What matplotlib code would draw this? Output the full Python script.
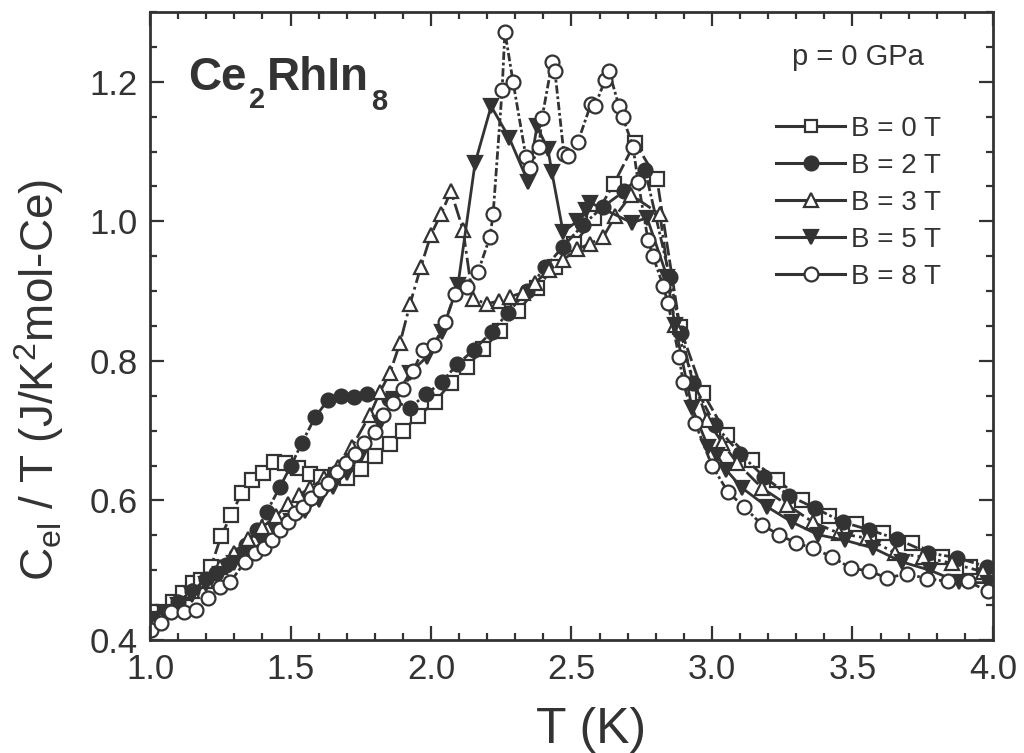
import matplotlib
matplotlib.use('Agg')
import matplotlib.pyplot as plt
from matplotlib.ticker import MultipleLocator, FormatStrFormatter

plt.rcParams['font.family'] = ['Liberation Sans', 'DejaVu Sans']
plt.rcParams['mathtext.fontset'] = 'custom'
plt.rcParams['mathtext.rm'] = 'Liberation Sans'
plt.rcParams['mathtext.it'] = 'Liberation Sans:italic'
plt.rcParams['mathtext.bf'] = 'Liberation Sans:bold'

col = '#333333'

# B = 0 T
T0 = [1.004, 1.082, 1.117, 1.153, 1.181, 1.217, 1.253, 1.288, 1.327, 1.363, 1.402, 1.441,
      1.480, 1.527, 1.569, 1.609, 1.662, 1.701, 1.751, 1.801, 1.854, 1.900, 1.954, 2.014,
      2.071, 2.128, 2.185, 2.246, 2.310, 2.377, 2.440, 2.509, 2.580, 2.651, 2.726, 2.804,
      2.886, 2.968, 3.053, 3.142, 3.231, 3.320, 3.416, 3.512, 3.609, 3.712, 3.819, 3.918, 4.0]
C0 = [0.440, 0.455, 0.467, 0.482, 0.486, 0.505, 0.549, 0.579, 0.611, 0.630, 0.640, 0.655,
      0.654, 0.647, 0.638, 0.634, 0.637, 0.632, 0.645, 0.664, 0.681, 0.700, 0.721, 0.741,
      0.769, 0.792, 0.817, 0.843, 0.871, 0.905, 0.935, 0.967, 1.005, 1.054, 1.113, 1.061,
      0.848, 0.754, 0.694, 0.658, 0.630, 0.601, 0.578, 0.566, 0.553, 0.539, 0.519, 0.505, 0.498]

# B = 2 T
T2 = [1.0, 1.05, 1.10, 1.15, 1.20, 1.235, 1.270, 1.306, 1.342, 1.381, 1.416, 1.463, 1.502,
      1.541, 1.587, 1.633, 1.680, 1.726, 1.772, 1.85, 1.925, 1.982, 2.039, 2.093, 2.153,
      2.217, 2.274, 2.340, 2.406, 2.470, 2.541, 2.612, 2.687, 2.762, 2.85, 2.89, 2.932,
      3.011, 3.100, 3.185, 3.274, 3.367, 3.466, 3.559, 3.658, 3.769, 3.872, 3.979]
C2 = [0.430, 0.440, 0.455, 0.470, 0.488, 0.496, 0.508, 0.522, 0.536, 0.558, 0.584, 0.620, 0.650,
      0.683, 0.719, 0.744, 0.750, 0.749, 0.753, 0.745, 0.733, 0.752, 0.770, 0.795, 0.816,
      0.842, 0.869, 0.900, 0.934, 0.964, 0.995, 1.021, 1.043, 1.073, 0.920, 0.840, 0.769,
      0.708, 0.667, 0.634, 0.607, 0.589, 0.569, 0.558, 0.545, 0.525, 0.518, 0.505]

# B = 3 T
T3 = [1.0, 1.05, 1.10, 1.15, 1.20, 1.25, 1.30, 1.35, 1.40, 1.45, 1.49, 1.53, 1.57, 1.62,
      1.67, 1.719, 1.783, 1.819, 1.854, 1.890, 1.925, 1.964, 2.000, 2.036, 2.071, 2.114,
      2.149, 2.199, 2.242, 2.281, 2.327, 2.370, 2.420, 2.470, 2.520, 2.565, 2.612, 2.655,
      2.712, 2.815, 2.868, 2.982, 3.036, 3.089, 3.178, 3.267, 3.359, 3.452, 3.552, 3.651,
      3.751, 3.854, 3.964]
C3 = [0.430, 0.440, 0.455, 0.470, 0.485, 0.505, 0.525, 0.545, 0.562, 0.578, 0.595, 0.608,
      0.618, 0.632, 0.648, 0.677, 0.723, 0.756, 0.783, 0.826, 0.881, 0.935, 0.981, 1.011,
      1.043, 0.988, 0.889, 0.882, 0.886, 0.892, 0.898, 0.912, 0.930, 0.945, 0.960, 0.968,
      0.977, 1.007, 1.038, 1.010, 0.852, 0.716, 0.683, 0.654, 0.618, 0.594, 0.569, 0.553,
      0.546, 0.525, 0.519, 0.510, 0.498]

# B = 5 T
T5 = [1.0, 1.05, 1.10, 1.15, 1.20, 1.25, 1.30, 1.35, 1.40, 1.45, 1.50, 1.55, 1.60, 1.65,
      1.70, 1.75, 1.819, 1.870, 1.925, 1.986, 2.039, 2.096, 2.157, 2.214, 2.278, 2.345,
      2.377, 2.416, 2.430, 2.470, 2.520, 2.552, 2.566, 2.715, 2.769, 2.840, 2.868, 2.929,
      2.986, 3.018, 3.050, 3.107, 3.196, 3.285, 3.377, 3.473, 3.573, 3.676, 3.776, 3.879, 3.982]
C5 = [0.430, 0.440, 0.450, 0.465, 0.480, 0.495, 0.510, 0.525, 0.540, 0.555, 0.570, 0.585,
      0.600, 0.620, 0.640, 0.665, 0.711, 0.745, 0.783, 0.806, 0.842, 0.909, 1.084, 1.165,
      1.120, 1.057, 1.136, 1.104, 1.071, 0.985, 1.000, 1.017, 1.027, 0.998, 1.005, 0.921,
      0.852, 0.733, 0.677, 0.665, 0.644, 0.618, 0.591, 0.569, 0.551, 0.543, 0.532, 0.512,
      0.500, 0.483, 0.482]

# B = 8 T
T8 = [1.004, 1.040, 1.075, 1.120, 1.164, 1.206, 1.249, 1.285, 1.338, 1.374, 1.406, 1.434,
      1.463, 1.491, 1.516, 1.544, 1.573, 1.605, 1.633, 1.665, 1.698, 1.730, 1.762, 1.801,
      1.829, 1.865, 1.900, 1.936, 1.972, 2.011, 2.050, 2.085, 2.128, 2.167, 2.210, 2.221,
      2.253, 2.263, 2.292, 2.338, 2.352, 2.384, 2.395, 2.431, 2.441, 2.473, 2.488, 2.523,
      2.569, 2.584, 2.619, 2.633, 2.669, 2.683, 2.719, 2.737, 2.772, 2.790, 2.826, 2.843,
      2.883, 2.897, 2.940, 3.000, 3.057, 3.114, 3.178, 3.238, 3.299, 3.359, 3.427, 3.495,
      3.559, 3.623, 3.694, 3.765, 3.840, 3.911, 3.982]
C8 = [0.414, 0.425, 0.440, 0.440, 0.443, 0.460, 0.476, 0.483, 0.512, 0.525, 0.532, 0.543,
      0.558, 0.569, 0.582, 0.591, 0.604, 0.615, 0.625, 0.641, 0.654, 0.667, 0.683, 0.698,
      0.723, 0.740, 0.760, 0.786, 0.816, 0.823, 0.856, 0.896, 0.906, 0.927, 0.978, 1.010,
      1.188, 1.272, 1.200, 1.092, 1.076, 1.107, 1.148, 1.228, 1.215, 1.097, 1.094, 1.114,
      1.168, 1.166, 1.202, 1.216, 1.165, 1.149, 1.107, 1.057, 0.974, 0.950, 0.908, 0.883,
      0.806, 0.770, 0.711, 0.650, 0.612, 0.591, 0.565, 0.551, 0.539, 0.532, 0.519, 0.503,
      0.499, 0.489, 0.495, 0.488, 0.484, 0.484, 0.470]

series = [
    (T0, C0, 's', 'white', (0, (5, 1.5)), 'B = 0 T'),
    (T2, C2, 'o', col, (0, (4, 1, 1, 1)), 'B = 2 T'),
    (T3, C3, '^', 'white', (0, (6, 1.5, 1, 1.5)), 'B = 3 T'),
    (T5, C5, 'v', col, '-', 'B = 5 T'),
    (T8, C8, 'o', 'white', (0, (3, 1, 1, 1)), 'B = 8 T'),
]

W, H = 1024, 753
fig = plt.figure(figsize=(W / 100, H / 100), dpi=100)
ax = fig.add_axes([0.1465, 0.150, 0.8232, 0.834])

handles = []
for T, C, m, fc, ls, lab in series:
    h, = ax.plot(T, C, marker=m, markersize=10, markerfacecolor=fc,
                 markeredgecolor=col, markeredgewidth=1.6, color=col, linewidth=2.0,
                 linestyle=ls, label=lab)
    handles.append(h)

ax.set_xlim(1.0, 4.0)
ax.set_ylim(0.4, 1.3)
ax.xaxis.set_major_locator(MultipleLocator(0.5))
ax.xaxis.set_minor_locator(MultipleLocator(0.1))
ax.yaxis.set_major_locator(MultipleLocator(0.2))
ax.yaxis.set_minor_locator(MultipleLocator(0.05))
ax.xaxis.set_major_formatter(FormatStrFormatter('%.1f'))
ax.yaxis.set_major_formatter(FormatStrFormatter('%.1f'))
ax.tick_params(which='both', direction='in', top=True, right=True, colors=col,
               labelsize=25, width=1.6)
ax.tick_params(which='major', length=10, pad=9)
ax.tick_params(which='minor', length=5)
for s in ax.spines.values():
    s.set_linewidth(2)
    s.set_color(col)

ax.set_xlabel('T (K)', fontsize=36, color=col)
ax.xaxis.set_label_coords(0.523, -0.107)
ax.set_ylabel(r'C$_{\rm el}$ / T (J/K$^2$mol-Ce)', fontsize=33, color=col)
ax.yaxis.set_label_coords(-0.10, 0.414)

# compound name, built piece by piece so subscripts sit low like the original
rend = fig.canvas.get_renderer()
pieces = [('Ce', 33, 90), ('2', 21, 108), ('RhIn', 33, 90), ('8', 21, 110)]
xpix = 188
for txt, fs, base in pieces:
    t = fig.text(xpix / W, 1 - base / H, txt, fontsize=fs, fontweight='bold',
                 color=col, va='baseline', ha='left')
    xpix = t.get_window_extent(rend).x1 + 2

ax.text(0.840, 0.928, 'p = 0 GPa', transform=ax.transAxes, fontsize=21, color=col,
        ha='center', va='center')

leg_handles = []
for i, h in enumerate(handles):
    leg_handles.append(plt.Line2D([], [], color=col, linewidth=2.2, marker=h.get_marker(),
                                  markersize=9 if i == 0 else 10,
                                  markerfacecolor=h.get_markerfacecolor(),
                                  markeredgecolor=col, markeredgewidth=1.6))
ax.legend(handles=leg_handles, labels=[s[5] for s in series], loc='upper left',
          bbox_to_anchor=(0.713, 0.875), frameon=False, fontsize=20, handlelength=2.5,
          handletextpad=0.2, labelspacing=0.40, labelcolor=col)

fig.savefig('out.png', dpi=100)
